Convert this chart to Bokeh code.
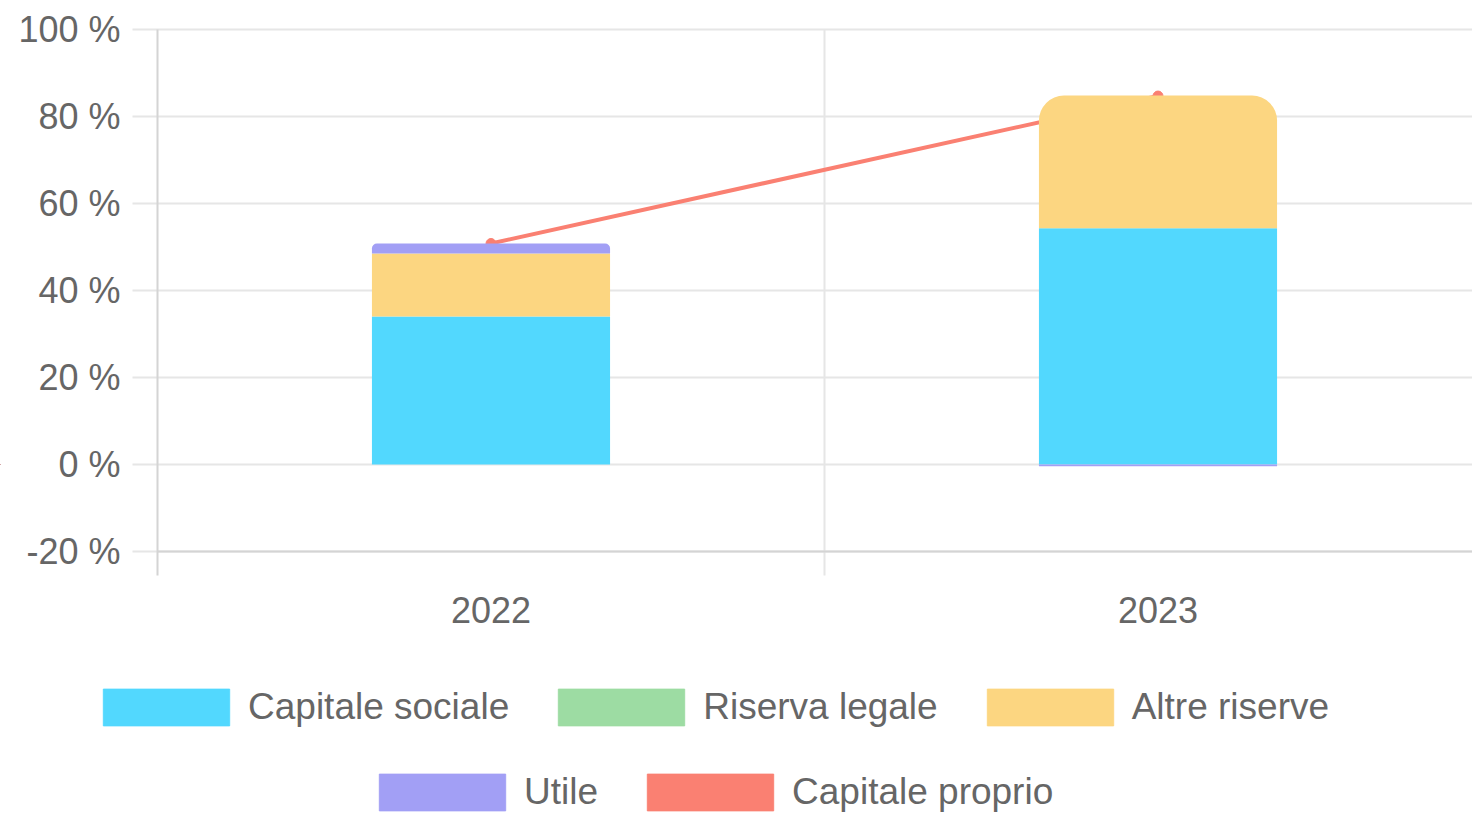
import numpy as np
from bokeh.plotting import figure
from bokeh.models import (ColumnDataSource, Range1d, Legend, LegendItem)
from bokeh.core.properties import value
from bokeh.embed import file_html
from bokeh.resources import INLINE

# ---- data ----
years = ["2022", "2023"]
capitale_sociale = [34.0, 54.3]
riserva_legale = [0.0, 0.0]
altre_riserve = [14.5, 30.5]
utile = [2.3, -0.4]
capitale_proprio = [50.8, 84.7]
y_ticks = [-20, 0, 20, 40, 60, 80, 100]
y_tick_labels = ["-20 %", "0 %", "20 %", "40 %", "60 %", "80 %", "100 %"]

names = ["Capitale sociale", "Riserva legale", "Altre riserve", "Utile", "Capitale proprio"]
colors = ["#52d8fe", "#9ddca3", "#fcd681", "#a29ff5", "#fa8072"]

FONT = "Liberation Sans"
TXT = "#666666"
GRID = "#e6e6e6"
AXIS = "#d4d4d4"

W, H = 1472, 813
LEFT, TOP, BOTTOM_PX = 157, 29, 551      # plot area (pixels)
X_UNIT = 667.0                            # pixels per category
Y_MIN, Y_MAX = -20, 100
Y_UNIT = (BOTTOM_PX - TOP) / (Y_MAX - Y_MIN)

x_start = -LEFT / X_UNIT
x_end = (W - LEFT) / X_UNIT
y_end = Y_MAX + TOP / Y_UNIT
y_start = Y_MIN - (H - BOTTOM_PX) / Y_UNIT

p = figure(width=W, height=H, min_border=0, x_axis_location=None, y_axis_location=None,
           x_range=Range1d(x_start, x_end), y_range=Range1d(y_start, y_end),
           output_backend="svg", toolbar_location=None, outline_line_color=None,
           background_fill_color="white", border_fill_color="white")
p.xgrid.visible = False
p.ygrid.visible = False

xs = [i + 0.5 for i in range(len(years))]
tick_len = 25 / X_UNIT
tick_down = 24 / Y_UNIT

# horizontal grid lines (with outer tick part)
p.segment(x0=[-tick_len] * len(y_ticks), x1=[x_end] * len(y_ticks), y0=y_ticks, y1=y_ticks,
          line_color=GRID, line_width=2)
# vertical grid line between categories and category-boundary ticks
bounds = [float(i) for i in range(1, len(years))]
p.segment(x0=bounds, x1=bounds, y0=[Y_MIN - tick_down] * len(bounds), y1=[Y_MAX] * len(bounds),
          line_color=GRID, line_width=2)
# axis lines
p.segment(x0=[0], x1=[0], y0=[Y_MIN - tick_down], y1=[Y_MAX], line_color=AXIS, line_width=2)
p.segment(x0=[0], x1=[x_end], y0=[Y_MIN], y1=[Y_MIN], line_color=AXIS, line_width=2)

# tick labels
p.text(x=[0] * len(y_ticks), y=y_ticks, text=y_tick_labels, x_offset=-37,
       text_align="right", text_baseline="middle", text_font=value(FONT),
       text_font_size="36px", text_color=TXT)
p.text(x=xs, y=[Y_MIN] * len(xs), text=years, y_offset=58,
       text_align="center", text_baseline="middle", text_font=value(FONT),
       text_font_size="36px", text_color=TXT)

# line (behind bars)
p.line(xs, capitale_proprio, line_color=colors[4], line_width=4)
p.scatter(xs, capitale_proprio, size=10, fill_color=colors[4], line_color=colors[4])

# stacked bars
bar_w = 0.357
stack_series = [capitale_sociale, riserva_legale, altre_riserve, utile]
pos = np.zeros(len(years))
neg = np.zeros(len(years))
segs = []
for si, vals in enumerate(stack_series):
    for yi, v in enumerate(vals):
        if v >= 0:
            b, t = pos[yi], pos[yi] + v
            pos[yi] = t
        else:
            b, t = neg[yi] + v, neg[yi]
            neg[yi] = b
        segs.append((si, yi, b, t, v))
top_seg = {}
for si, yi, b, t, v in segs:
    if v > 0:
        top_seg[yi] = si
for si, yi, b, t, v in segs:
    if v == 0:
        continue
    r = 0
    if v > 0 and top_seg.get(yi) == si:
        r = int(min(25, abs(v) * Y_UNIT / 2))
    src = ColumnDataSource(dict(x=[xs[yi]], bottom=[b], top=[t]))
    p.vbar(x="x", bottom="bottom", top="top", width=bar_w, source=src,
           fill_color=colors[si], line_color=None, border_radius=(r, r, 0, 0))

# legend proxies (zero-height bars outside the visible x range)
proxies = []
for n, c in zip(names, colors):
    src = ColumnDataSource(dict(x=[-100.0], top=[0.0]))
    rr = p.vbar(x="x", top="top", bottom=0, width=0.1, source=src,
                fill_color=c, line_color=c, line_alpha=0.9)
    proxies.append(rr)

def make_legend(idx, loc):
    items = [LegendItem(label=names[i], renderers=[proxies[i]]) for i in idx]
    return Legend(items=items, orientation="horizontal", location=loc,
                  glyph_width=158, glyph_height=46, label_standoff=3, spacing=33,
                  padding=0, margin=0, border_line_color=None, background_fill_alpha=0,
                  label_text_font=FONT, label_text_font_size="37px", label_text_color=TXT,
                  label_height=37)

p.add_layout(make_legend([0, 1, 2], (87, 83)), "center")
p.add_layout(make_legend([3, 4], (363, -2)), "center")

open("out.html", "w").write(file_html(p, INLINE))
